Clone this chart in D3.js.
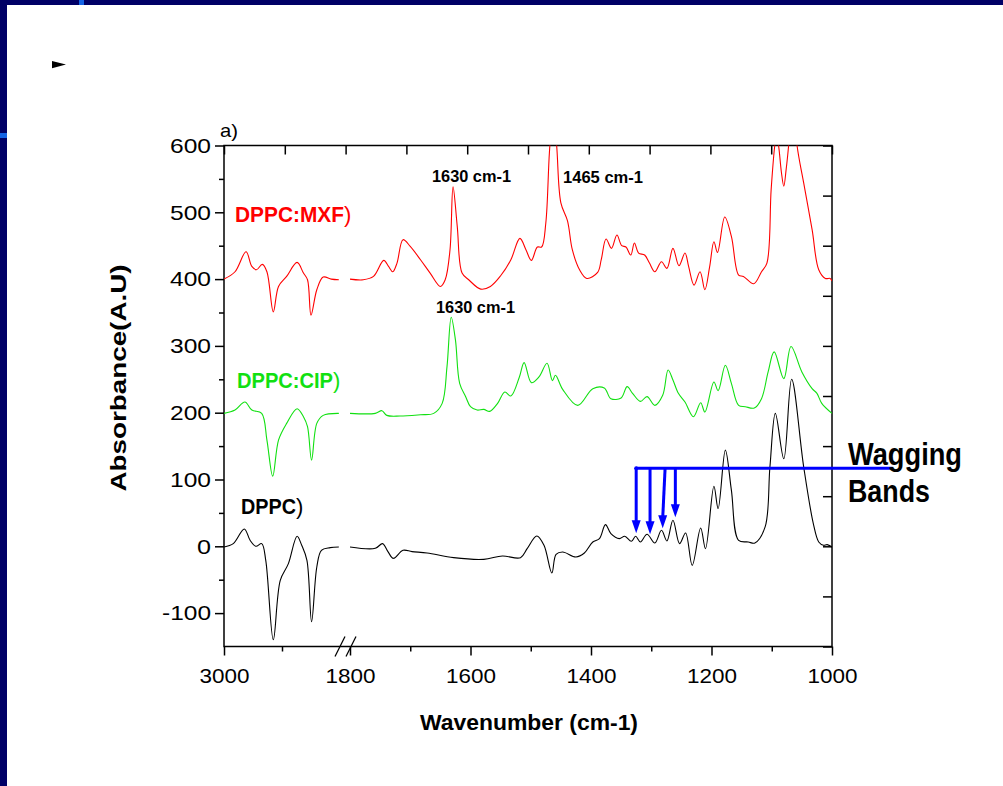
<!DOCTYPE html>
<html>
<head>
<meta charset="utf-8">
<script src="https://cdn.jsdelivr.net/npm/d3@7"></script>
<style>
  html, body { margin: 0; padding: 0; background: #fff; }
  svg { display: block; font-family: "Liberation Sans", Arial, sans-serif; }
</style>
</head>
<body>
<svg id="chart" width="1003" height="786"></svg>
<script>
// Spectra as [wavenumber, absorbance] pairs, split at the axis break
const mxfHigh = [[3000,400],[2981,411],[2962,441],[2952,419],[2944,414],[2934,422],[2926,411],[2915,351],[2906,389],[2892,404],[2874,425],[2863,409],[2856,399],[2850,346],[2840,384],[2829,403],[2815,400],[2802,399]];
const mxfLow = [[1800,400],[1778,399],[1761,404],[1744,428],[1736,419],[1729,411],[1722,424],[1712,459],[1700,449],[1683,429],[1667,409],[1650,389],[1642,399],[1634,444],[1629,538],[1622,479],[1614,409],[1603,399],[1583,385],[1567,389],[1550,405],[1533,429],[1518,461],[1508,444],[1499,428],[1489,448],[1482,448],[1475,484],[1469,590],[1463,655],[1457,600],[1450,514],[1439,487],[1431,444],[1419,414],[1407,401],[1389,410],[1383,429],[1375,460],[1366,446],[1357,466],[1349,450],[1342,448],[1334,436],[1328,454],[1321,439],[1311,436],[1303,424],[1294,411],[1283,426],[1274,416],[1264,446],[1254,420],[1244,439],[1238,419],[1229,391],[1219,411],[1211,384],[1203,419],[1196,456],[1190,440],[1178,493],[1167,464],[1155,406],[1147,404],[1130,393],[1117,411],[1108,424],[1101,534],[1095,600],[1092,618],[1088,595],[1084,560],[1080,539],[1076,565],[1072,600],[1065,680],[1058,600],[1047,544],[1033,474],[1022,414],[1011,401],[1003,401],[1000,397]];

const cipHigh = [[3000,199],[2981,204],[2964,216],[2952,204],[2935,199],[2926,159],[2916,105],[2906,159],[2892,184],[2874,206],[2863,194],[2856,179],[2849,129],[2840,184],[2829,196],[2802,199]];
const cipLow = [[1800,199],[1758,199],[1747,203],[1739,196],[1717,195],[1683,197],[1661,199],[1647,214],[1639,269],[1632,343],[1625,309],[1618,244],[1608,224],[1600,209],[1589,204],[1578,205],[1568,202],[1555,214],[1543,231],[1533,225],[1519,253],[1511,275],[1499,245],[1486,254],[1473,274],[1464,248],[1459,256],[1447,235],[1422,211],[1397,236],[1378,237],[1367,221],[1350,222],[1340,239],[1331,229],[1318,217],[1307,224],[1294,211],[1281,226],[1272,264],[1264,249],[1255,229],[1244,216],[1230,194],[1218,215],[1211,201],[1196,246],[1189,233],[1177,271],[1167,244],[1155,211],[1144,209],[1129,207],[1117,221],[1106,261],[1096,291],[1080,251],[1068,299],[1050,261],[1033,236],[1025,229],[1017,214],[1000,199]];

const dppcHigh = [[3000,-1],[2984,4],[2965,26],[2955,9],[2945,0],[2935,4],[2928,-21],[2915,-140],[2903,-51],[2889,-26],[2874,15],[2866,1.5],[2857,-21],[2849,-113],[2840,-31],[2832,-6],[2817,-2],[2802,-1]];
const dppcLow = [[1800,-1],[1758,-3],[1746,4],[1737,-8],[1728,-18],[1712,-6],[1697,-8],[1672,-10],[1628,-17],[1578,-19.5],[1547,-14.5],[1517,-17],[1506,-3.5],[1490,15.5],[1478,1.5],[1465,-40],[1458,-12],[1447,-8.5],[1425,-16],[1411,-10],[1397,6.5],[1386,11.5],[1376,32.5],[1367,19],[1353,11.5],[1344,15],[1333,7.5],[1326,15],[1318,6.5],[1307,18],[1294,5],[1283,24],[1274,8],[1264,39],[1253,4],[1243,20],[1232,-28.5],[1218,27.5],[1210,-3.5],[1196,90],[1189,56.5],[1177,144],[1167,84],[1155,9],[1139,6.5],[1128,5],[1111,29],[1103,119],[1094,199],[1080,131],[1067,250],[1047,119],[1031,34],[1022,6.5],[1014,1.5],[1008,2.5],[1000,-1]];

// Axis ticks
const yMajor = [-100, 0, 100, 200, 300, 400, 500, 600];
const yMinor = [-50, 50, 150, 250, 350, 450, 550];
const xHighMajor = [3000];
const xHighMinor = [2900];
const xLowMajor = [1800, 1600, 1400, 1200, 1000];
const xLowMinor = [1700, 1500, 1300, 1100];

// Wagging band arrows: top wavenumber, tip wavenumber, tip absorbance
const wagTop = [1325, 1302, 1277, 1260];
const wagTip = [1325, 1302, 1281, 1260];
const wagTipValue = [19.5, 18, 27, 43.5];
const wagLevel = 117;
const wagEnd = 900;

const svg = d3.select("#chart");
const pLeft = 224, pRight = 832, pTop = 145.5, pBottom = 646.5;

const xHigh = d3.scaleLinear().domain([3000, 2800]).range([pLeft, 340]);
const xLow = d3.scaleLinear().domain([1800, 1000]).range([350, pRight]);
const y = d3.scaleLinear().domain([-150, 600]).range([pBottom, pTop]);

// Slide decorations
svg.append("rect").attr("x", 0).attr("y", 0).attr("width", 1003).attr("height", 5).attr("fill", "#000066");
svg.append("rect").attr("x", 0).attr("y", 0).attr("width", 7).attr("height", 786).attr("fill", "#000066");
svg.append("rect").attr("x", 79).attr("y", 0).attr("width", 5).attr("height", 5).attr("fill", "#1464e6");
svg.append("rect").attr("x", 0).attr("y", 133).attr("width", 7).attr("height", 5).attr("fill", "#1464e6");
svg.append("path").attr("d", "M52,61 L66,64.6 L52,68.3 Z").attr("fill", "#000");

// Clip
svg.append("clipPath").attr("id", "plotclip")
  .append("rect").attr("x", pLeft).attr("y", pTop).attr("width", pRight - pLeft).attr("height", pBottom - pTop);

// Axes
function styleTicks(g) {
  g.select(".domain").remove();
  g.selectAll(".tick line").attr("stroke", "#000").attr("stroke-width", 1.5);
}

const lblFont = 21;
svg.append("g").attr("transform", `translate(${pLeft},0)`)
  .call(d3.axisLeft(y).tickValues(yMajor).tickSize(9).tickPadding(4).tickFormat(d => String(d)))
  .call(styleTicks)
  .call(g => g.selectAll("text")
    .attr("font-size", lblFont).attr("fill", "#000")
    .attr("font-family", "Liberation Sans, Arial, sans-serif")
    .attr("textLength", d => d === 0 ? 14 : (d < 0 ? 49 : 41))
    .attr("lengthAdjust", "spacingAndGlyphs"));
svg.append("g").attr("transform", `translate(${pLeft},0)`)
  .call(d3.axisLeft(y).tickValues(yMinor).tickSize(5).tickFormat(""))
  .call(styleTicks);

function bottomAxis(scale, major, minor) {
  svg.append("g").attr("transform", `translate(0,${pBottom})`)
    .call(d3.axisBottom(scale).tickValues(major).tickSize(9).tickPadding(13).tickFormat(d => String(d)))
    .call(styleTicks)
    .call(g => g.selectAll("text")
      .attr("font-size", lblFont).attr("fill", "#000")
      .attr("font-family", "Liberation Sans, Arial, sans-serif")
      .attr("textLength", 50).attr("lengthAdjust", "spacingAndGlyphs"));
  svg.append("g").attr("transform", `translate(0,${pBottom})`)
    .call(d3.axisBottom(scale).tickValues(minor).tickSize(5).tickFormat(""))
    .call(styleTicks);
}
bottomAxis(xHigh, xHighMajor, xHighMinor);
bottomAxis(xLow, xLowMajor, xLowMinor);

// Mirror ticks on top and right (evenly spaced, inward)
const topScale = d3.scaleLinear().domain([0, 10]).range([pLeft, pRight]);
const rightScale = d3.scaleLinear().domain([0, 10]).range([pBottom, pTop]);
svg.append("g").attr("transform", `translate(0,${pTop})`)
  .call(d3.axisBottom(topScale).ticks(10).tickSize(9).tickFormat(""))
  .call(styleTicks);
svg.append("g").attr("transform", `translate(${pRight},0)`)
  .call(d3.axisLeft(rightScale).ticks(10).tickSize(9).tickFormat(""))
  .call(styleTicks);

// Frame
svg.append("rect").attr("x", pLeft).attr("y", pTop).attr("width", pRight - pLeft).attr("height", pBottom - pTop)
  .attr("fill", "none").attr("stroke", "#000").attr("stroke-width", 1.5);

// Axis break marks
[xHigh(2800), xLow(1800)].forEach((cx, i) => {
  const c = i === 0 ? cx : cx + 1;
  svg.append("line")
    .attr("x1", c - 5).attr("y1", pBottom + 10).attr("x2", c + 5).attr("y2", pBottom - 10)
    .attr("stroke", "#000").attr("stroke-width", 1.3);
});

// Spectra
const plot = svg.append("g").attr("clip-path", "url(#plotclip)");
const lineHigh = d3.line().x(d => xHigh(d[0])).y(d => y(d[1])).curve(d3.curveCatmullRom.alpha(0.5));
const lineLow = d3.line().x(d => xLow(d[0])).y(d => y(d[1])).curve(d3.curveCatmullRom.alpha(0.5));
const series = [
  { hi: mxfHigh, lo: mxfLow, color: "#ff0000" },
  { hi: cipHigh, lo: cipLow, color: "#11e011" },
  { hi: dppcHigh, lo: dppcLow, color: "#000000" }
];
series.forEach(s => {
  plot.append("path").attr("d", lineHigh(s.hi)).attr("fill", "none").attr("stroke", s.color).attr("stroke-width", 1.1);
  plot.append("path").attr("d", lineLow(s.lo)).attr("fill", "none").attr("stroke", s.color).attr("stroke-width", 1.1);
});

// Wagging band arrows
const blue = "#0000ff";
svg.append("line")
  .attr("x1", xLow(wagTop[0])).attr("y1", y(wagLevel))
  .attr("x2", xLow(wagEnd)).attr("y2", y(wagLevel))
  .attr("stroke", blue).attr("stroke-width", 3);
svg.append("circle").attr("cx", xLow(wagTop[0])).attr("cy", y(wagLevel)).attr("r", 2).attr("fill", blue);
wagTop.forEach((w, i) => {
  const x1 = xLow(w), y1 = y(wagLevel);
  const x2 = xLow(wagTip[i]), y2 = y(wagTipValue[i]);
  svg.append("line").attr("x1", x1).attr("y1", y1).attr("x2", x2).attr("y2", y2 - 10)
    .attr("stroke", blue).attr("stroke-width", 3);
  svg.append("path")
    .attr("d", `M${x2 - 4.5},${y2 - 13} L${x2 + 4.5},${y2 - 13} L${x2},${y2} Z`)
    .attr("fill", blue);
});

// Text
function txt(x, yy, s, size, weight, len, color, anchor) {
  return svg.append("text").attr("x", x).attr("y", yy)
    .attr("font-size", size).attr("font-weight", weight || "normal")
    .attr("fill", color || "#000").attr("text-anchor", anchor || "start")
    .attr("textLength", len).attr("lengthAdjust", "spacingAndGlyphs")
    .text(s);
}

txt(220, 137, "a)", 19, "normal", 18);

// Series name in bold, closing bracket in regular weight
function seriesLabel(x, yy, s, len, color) {
  const t = svg.append("text").attr("x", x).attr("y", yy)
    .attr("font-size", 22).attr("fill", color);
  t.append("tspan").attr("font-weight", "bold")
    .attr("textLength", len).attr("lengthAdjust", "spacingAndGlyphs").text(s);
  t.append("tspan").attr("font-weight", "normal").text(")");
}
seriesLabel(235, 222, "DPPC:MXF", 109, "#ff0000");
seriesLabel(237, 388, "DPPC:CIP", 96, "#11e011");
seriesLabel(241, 514, "DPPC", 55, "#000");

txt(432, 182, "1630 cm-1", 17, "bold", 79);
txt(563, 183, "1465 cm-1", 17, "bold", 80);
txt(436, 313, "1630 cm-1", 17, "bold", 79);

txt(848, 465, "Wagging", 31, "bold", 114);
txt(848, 502, "Bands", 31, "bold", 82);

txt(529, 730, "Wavenumber (cm-1)", 22, "bold", 218, "#000", "middle");
svg.append("text")
  .attr("transform", "translate(126,378) rotate(-90)")
  .attr("text-anchor", "middle").attr("font-size", 22).attr("font-weight", "bold")
  .attr("textLength", 227).attr("lengthAdjust", "spacingAndGlyphs")
  .text("Absorbance(A.U)");
</script>
</body>
</html>
